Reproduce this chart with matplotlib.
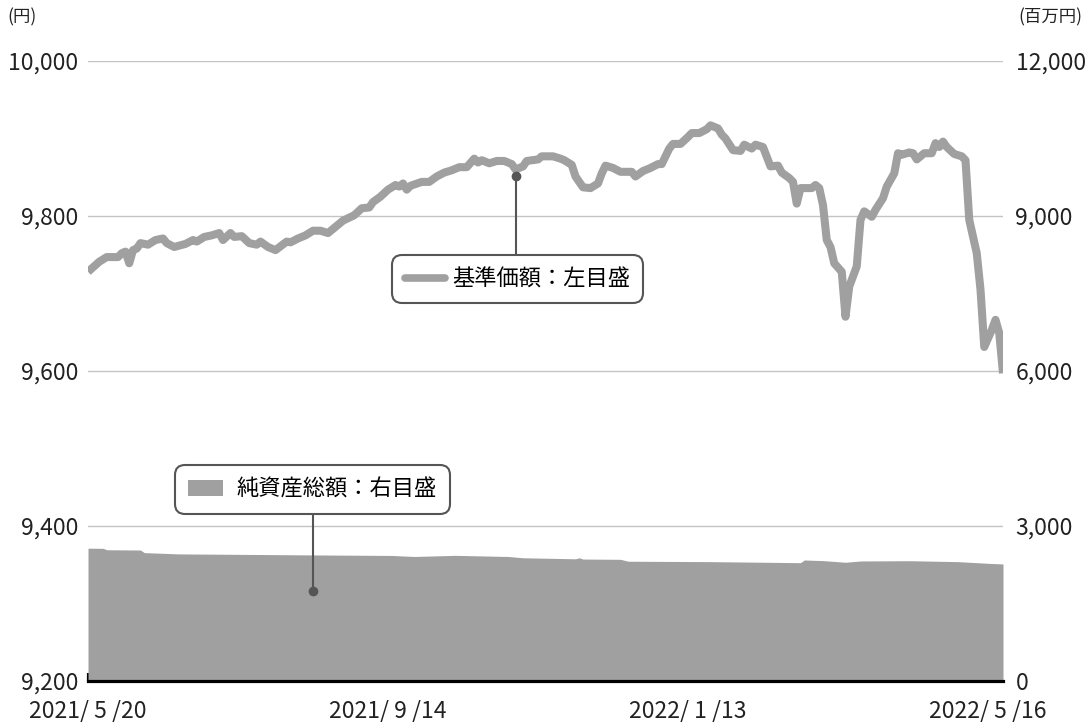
import matplotlib
matplotlib.use("Agg")
import matplotlib.pyplot as plt
from matplotlib.lines import Line2D
from matplotlib.patches import Patch

plt.rcParams['font.family'] = ['Noto Sans CJK JP', 'DejaVu Sans']

# 基準価額 (円): trading-day index, value
nav_idx = [0, 3, 5, 8, 9, 10, 11, 12, 13, 14, 16, 18, 20, 21, 23, 26, 28, 29, 31, 33,
           35, 36, 38, 39, 41, 43, 45, 46, 48, 50, 53, 54, 56, 58, 60, 62, 64, 66, 68, 71,
           73, 75, 76, 78, 80, 82, 83, 84, 85, 86, 89, 91, 93, 95, 97, 99, 101, 103, 104, 105,
           107, 109, 111, 113, 114, 116, 117, 120, 121, 124, 126, 127, 129, 130, 132, 134, 136, 137, 138, 140,
           142, 145, 146, 148, 150, 152, 153, 155, 156, 158, 160, 161, 163, 165, 166, 168, 169, 170, 172, 174,
           175, 177, 178, 180, 182, 184, 185, 187, 188, 189, 190, 193, 194, 195, 196, 197, 198, 199, 201, 202,
           203, 205, 206, 207, 209, 210, 212, 213, 215, 216, 217, 219, 220, 221, 223, 225, 226, 227, 228, 229,
           231, 233, 234, 235, 237, 238, 239, 241, 242, 243, 244]
nav_val = [9728, 9741, 9747, 9747, 9752, 9754, 9739, 9756, 9758, 9765, 9763, 9769, 9771, 9765, 9760, 9764, 9769, 9767, 9773, 9775,
           9778, 9769, 9778, 9773, 9774, 9765, 9763, 9767, 9760, 9756, 9767, 9766, 9771, 9775, 9781, 9781, 9778, 9786, 9794, 9801,
           9810, 9811, 9818, 9825, 9834, 9840, 9838, 9842, 9834, 9839, 9844, 9844, 9851, 9856, 9859, 9863, 9863, 9874, 9869, 9872,
           9868, 9871, 9871, 9867, 9860, 9864, 9871, 9873, 9877, 9877, 9874, 9872, 9866, 9851, 9837, 9836, 9842, 9855, 9865, 9862,
           9857, 9857, 9851, 9858, 9862, 9867, 9867, 9887, 9893, 9893, 9902, 9907, 9907, 9912, 9917, 9913, 9905, 9900, 9885, 9884,
           9892, 9887, 9892, 9889, 9864, 9865, 9856, 9849, 9844, 9816, 9836, 9836, 9840, 9836, 9814, 9769, 9760, 9739, 9728, 9670,
           9709, 9735, 9795, 9806, 9799, 9808, 9823, 9838, 9855, 9881, 9879, 9882, 9881, 9873, 9881, 9881, 9894, 9889, 9896, 9889,
           9880, 9877, 9872, 9795, 9752, 9705, 9631, 9653, 9666, 9649, 9597]

# 純資産総額 (百万円)
na_idx = [0, 4, 5, 14, 15, 24, 60, 81, 87, 98, 112, 116, 130, 131, 132, 142, 144, 166, 190, 191,
          196, 202, 206, 219, 232, 240, 244]
na_val = [2570, 2568, 2540, 2535, 2485, 2460, 2440, 2430, 2410, 2432, 2410, 2385, 2365, 2385, 2360, 2355, 2318, 2310, 2290, 2342,
          2330, 2298, 2323, 2328, 2310, 2278, 2265]

tick_idx = [0, 80, 160, 240]
tick_labels = ['2021/ 5 /20', '2021/ 9 /14', '2022/ 1 /13', '2022/ 5 /16']

GRAY = '#a0a0a0'
DARK = '#555555'

fig = plt.figure(figsize=(10.88, 7.22), dpi=100)
ax = fig.add_axes([88/1088, 1-681/722, 915/1088, 620/722])
ax2 = ax.twinx()

# area (right scale) on the lower axes
ax.fill_between(na_idx, na_val, 0, color=GRAY, lw=0, zorder=2)
ax.set_ylim(0, 12000)
ax.set_yticks([0, 3000, 6000, 9000, 12000])
ax.set_yticklabels([f'{v:,}' for v in [0, 3000, 6000, 9000, 12000]])
ax.yaxis.tick_right()
ax.tick_params(axis='y', length=0, pad=9, labelsize=16.5, labelcolor='#222222')
ax.yaxis.grid(True, color='#c4c4c4', lw=1, zorder=0)
ax.set_axisbelow(True)

ax.set_xlim(0, 244)
ax.set_xticks(tick_idx)
ax.set_xticklabels(tick_labels)
ax.tick_params(axis='x', direction='in', length=5.5, width=1.6, color='black',
               pad=13, labelsize=16.5, labelcolor='#222222')
for s in ['top', 'left', 'right']:
    ax.spines[s].set_visible(False)
ax.spines['bottom'].set_linewidth(2.3)
ax.spines['bottom'].set_color('black')

# NAV line (left scale)
ax2.plot(nav_idx, nav_val, color=GRAY, lw=5.8, solid_joinstyle='round',
         solid_capstyle='butt', zorder=3)
ax2.set_ylim(9200, 10000)
ax2.set_yticks([9200, 9400, 9600, 9800, 10000])
ax2.set_yticklabels([f'{v:,}' for v in [9200, 9400, 9600, 9800, 10000]])
ax2.yaxis.set_ticks_position('left')
ax2.tick_params(axis='y', length=0, pad=7, labelsize=16.5, labelcolor='#222222')
for s in ax2.spines.values():
    s.set_visible(False)

# connectors and dots
ax2.plot([114, 114], [9851, 9746], color=DARK, lw=1.5, zorder=4)
ax2.plot([114], [9851], 'o', color=DARK, ms=6, zorder=5)
ax.plot([60, 60], [1742, 3271], color=DARK, lw=1.5, zorder=4)
ax.plot([60], [1742], 'o', color=DARK, ms=6, zorder=5)

# legend boxes
h1 = Line2D([], [], color=GRAY, lw=5.5, solid_capstyle='round')
leg1 = ax2.legend([h1], ['基準価額：左目盛'], loc='center',
                  bbox_to_anchor=(517.5/1088, 1-279/722), bbox_transform=fig.transFigure,
                  fontsize=16, frameon=True, fancybox=True, borderpad=0.55,
                  handlelength=1.8, handletextpad=0.35, borderaxespad=0)
h2 = Patch(facecolor=GRAY, edgecolor='none')
leg2 = ax2.legend([h2], ['純資産総額：右目盛'], loc='center',
                  bbox_to_anchor=(312.5/1088, 1-489.5/722), bbox_transform=fig.transFigure,
                  fontsize=16, frameon=True, fancybox=True, borderpad=0.6,
                  handlelength=1.55, handleheight=0.75, handletextpad=0.6, borderaxespad=0)
for lg in (leg1, leg2):
    fr = lg.get_frame()
    fr.set_edgecolor(DARK)
    fr.set_linewidth(1.5)
    fr.set_facecolor('white')
    fr.set_alpha(1)
    fr.set_boxstyle('round', pad=0, rounding_size=0.45)
    lg.set_zorder(6)
ax2.add_artist(leg1)

fig.text(7/1088, 1-17/722, '(円)', fontsize=12.5, va='center', ha='left', color='#222222')
fig.text(1082/1088, 1-17/722, '(百万円)', fontsize=12.5, va='center', ha='right', color='#222222')

fig.savefig('out.png', dpi=100)
